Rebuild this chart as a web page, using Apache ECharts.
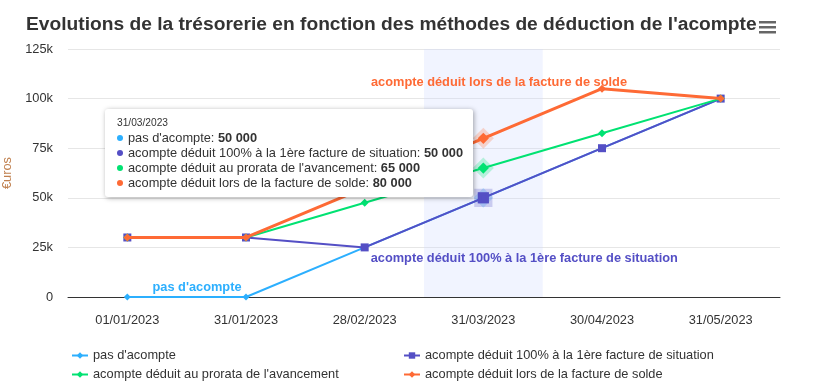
<!DOCTYPE html>
<html>
<head>
<meta charset="utf-8">
<script src="https://cdn.jsdelivr.net/npm/echarts@6/dist/echarts.min.js"></script>
<style>
  html, body { margin: 0; padding: 0; background: #fff; }
  #chart { width: 823px; height: 390px; }
</style>
</head>
<body>
<div id="chart"></div>
<script>
// data
const dates = ['01/01/2023', '31/01/2023', '28/02/2023', '31/03/2023', '30/04/2023', '31/05/2023'];
const seriesNames = [
  "pas d'acompte",
  'acompte déduit 100% à la 1ère facture de situation',
  "acompte déduit au prorata de l'avancement",
  'acompte déduit lors de la facture de solde'
];
const pasAcompte = [0, 0, 25000, 50000, 75000, 100000];
const deduit100 = [30000, 30000, 25000, 50000, 75000, 100000];
const prorata = [30000, 30000, 47500, 65000, 82500, 100000];
const solde = [30000, 30000, 55000, 80000, 105000, 100000];
const yTicks = [0, 25000, 50000, 75000, 100000, 125000];

const colors = ['#2caffe', '#544fc5', '#00e272', '#fe6a35'];
const halos = ['rgba(44,175,254,0.25)', 'rgba(84,79,197,0.25)', 'rgba(0,226,114,0.25)', 'rgba(254,106,53,0.25)'];
const font = "'Liberation Sans', Arial, sans-serif";

const chart = echarts.init(document.getElementById('chart'));

// put a series label on one point (like the Highcharts series labels)
function withLabel(values, idx, text, color, label) {
  return values.map((v, i) => {
    if (i !== idx) return v;
    return {
      value: v,
      label: Object.assign({
        show: true,
        formatter: text,
        color: color,
        fontWeight: 'bold',
        fontSize: 12.8,
        fontFamily: font
      }, label)
    };
  });
}

function fmt(v) {
  return String(v).replace(/\B(?=(\d{3})+(?!\d))/g, ' ');
}

function lineSeries(i, data, symbol, size, width) {
  return {
    name: seriesNames[i],
    type: 'line',
    data: data,
    symbol: symbol,
    symbolSize: size,
    showAllSymbol: true,
    lineStyle: { color: colors[i], width: width },
    itemStyle: { color: colors[i] },
    emphasis: {
      scale: 1.4,
      lineStyle: { color: colors[i], width: width },
      itemStyle: { color: colors[i], borderColor: halos[i], borderWidth: 7 }
    },
    z: 2 + i
  };
}

function legendAt(name, left, top) {
  return {
    left: left,
    top: top,
    padding: 0,
    itemWidth: 16,
    itemHeight: 8,
    textStyle: { fontSize: 12.8, color: '#333333', fontFamily: font },
    data: [name]
  };
}

const option = {
  animation: false,
  color: colors,
  textStyle: { fontFamily: font },
  title: {
    text: "Evolutions de la trésorerie en fonction des méthodes de déduction de l'acompte",
    left: 21,
    top: 10,
    textStyle: { fontSize: 19.2, fontWeight: 'bold', color: '#333333', fontFamily: font }
  },
  graphic: [
    { type: 'rect', left: 759, top: 21, shape: { width: 17, height: 2.5 }, style: { fill: '#666' } },
    { type: 'rect', left: 759, top: 26, shape: { width: 17, height: 2.5 }, style: { fill: '#666' } },
    { type: 'rect', left: 759, top: 31, shape: { width: 17, height: 2.5 }, style: { fill: '#666' } }
  ],
  grid: { left: 68, right: 43, top: 49, bottom: 93, outerBoundsMode: 'none' },
  tooltip: {
    trigger: 'axis',
    triggerOn: 'none',
    alwaysShowContent: true,
    transitionDuration: 0,
    position: [105, 109],
    backgroundColor: '#ffffff',
    borderWidth: 0,
    padding: [7, 10, 7, 12],
    extraCssText: 'box-shadow: 1px 1px 5px rgba(0,0,0,0.35); border-radius: 3px;',
    axisPointer: {
      type: 'shadow',
      z: 0,
      shadowStyle: { color: 'rgba(204,214,255,0.28)' }
    },
    formatter: function (params) {
      let html = '<div style="font-family:' + font.replace(/'/g, '') + ';color:#333;">' +
        '<div style="font-size:10.2px;line-height:14px;">' + params[0].axisValue + '</div>';
      params.forEach(p => {
        html += '<div style="font-size:12.8px;line-height:15px;">' +
          '<span style="display:inline-block;width:6px;height:6px;border-radius:3px;margin-right:5px;vertical-align:1px;background:' +
          p.color + ';"></span>' + p.seriesName + ': <b>' + fmt(p.value) + '</b></div>';
      });
      return html + '</div>';
    }
  },
  legend: [
    legendAt(seriesNames[0], 71, 349),
    legendAt(seriesNames[2], 71, 368),
    legendAt(seriesNames[1], 403, 349),
    legendAt(seriesNames[3], 403, 368)
  ],
  xAxis: {
    type: 'category',
    data: dates,
    boundaryGap: true,
    axisTick: { show: false },
    axisLine: { lineStyle: { color: '#333333', width: 1 } },
    axisLabel: { color: '#333333', fontSize: 12.8, margin: 17, fontFamily: font }
  },
  yAxis: {
    type: 'value',
    min: yTicks[0],
    max: yTicks[yTicks.length - 1],
    interval: yTicks[1] - yTicks[0],
    name: '€uros',
    nameLocation: 'middle',
    nameRotate: 90,
    nameGap: 47,
    nameTextStyle: { color: '#c0804f', fontSize: 12.8, fontFamily: font },
    axisLine: { show: false },
    axisTick: { show: false },
    splitLine: { lineStyle: { color: '#e6e6e6' } },
    axisLabel: {
      color: '#333333',
      fontSize: 12.8,
      margin: 15,
      fontFamily: font,
      formatter: v => (v === 0 ? '0' : v / 1000 + 'k')
    }
  },
  series: [
    lineSeries(0, withLabel(pasAcompte, 1, seriesNames[0], colors[0], { position: 'top', offset: [-49, 5] }), 'diamond', 7, 2),
    lineSeries(1, withLabel(deduit100, 2, seriesNames[1], colors[1], { position: 'right', distance: 2, offset: [0, 11] }), 'rect', 8, 2),
    lineSeries(2, prorata, 'diamond', 8, 2),
    lineSeries(3, withLabel(solde, 4, seriesNames[3], colors[3], { position: 'top', offset: [-103, 9] }), 'diamond', 8, 3)
  ]
};

chart.setOption(option);
chart.dispatchAction({ type: 'showTip', seriesIndex: 0, dataIndex: 3 });
</script>
</body>
</html>
